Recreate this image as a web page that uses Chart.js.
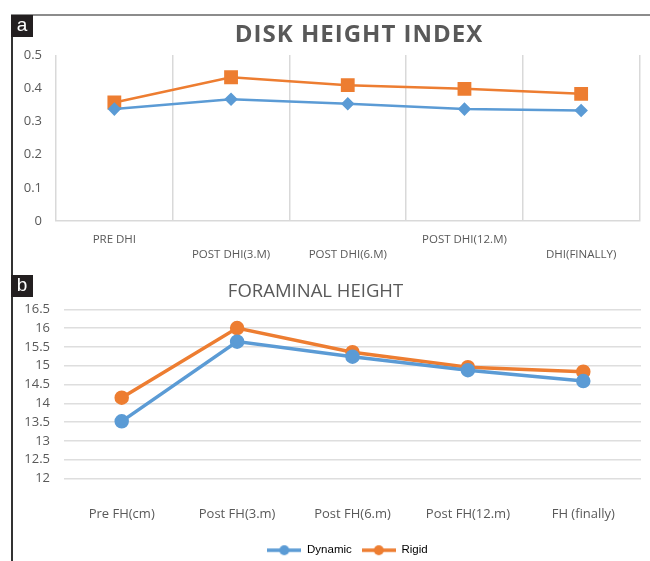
<!DOCTYPE html>
<html>
<head>
<meta charset="utf-8">
<script src="https://cdn.jsdelivr.net/npm/chart.js@4"></script>
<style>
  html, body { margin: 0; padding: 0; background: #fff; width: 650px; height: 561px; overflow: hidden; }
  #wrap { position: relative; width: 650px; height: 561px; }
  canvas { position: absolute; left: 0; }
  #cA { top: 0; }
  #cB { top: 270px; }
  .frameTop { position: absolute; left: 11px; top: 14px; width: 639px; height: 2px; background: #8c8c8c; }
  .frameLeft { position: absolute; left: 11px; top: 15px; width: 2px; height: 546px; background: #333; }
  .tag { position: absolute; left: 11px; width: 22px; height: 22px; background: #231f20; color: #fff;
         font-family: 'Liberation Sans', Arial, sans-serif; font-size: 19px; line-height: 20px; text-align: center; }
</style>
</head>
<body>
<div id="wrap">
  <canvas id="cA" width="650" height="270"></canvas>
  <canvas id="cB" width="650" height="296"></canvas>
  <div class="frameTop"></div>
  <div class="frameLeft"></div>
  <div class="tag" style="top:15px;">a</div>
  <div class="tag" style="top:275px;">b</div>
</div>
<script>
// ---------- data ----------
const seriesNames = ['Dynamic', 'Rigid'];

const titleA = 'DISK HEIGHT INDEX';
const categoriesA = ['PRE DHI', 'POST DHI(3.M)', 'POST DHI(6.M)', 'POST DHI(12.M)', 'DHI(FINALLY)'];
const dynamicDHI = [0.337, 0.367, 0.353, 0.337, 0.333];
const rigidDHI   = [0.357, 0.433, 0.409, 0.398, 0.383];
const axisA = { min: 0, max: 0.5, step: 0.1 };

const titleB = 'FORAMINAL HEIGHT';
const categoriesB = ['Pre FH(cm)', 'Post FH(3.m)', 'Post FH(6.m)', 'Post FH(12.m)', 'FH (finally)'];
const dynamicFH = [13.52, 15.64, 15.24, 14.88, 14.59];
const rigidFH   = [14.15, 16.00, 15.36, 14.96, 14.84];
const axisB = { min: 12, max: 16.5, step: 0.5 };

// ---------- styling ----------
const BLUE = '#5b9bd5';
const ORANGE = '#ed7d31';
const TEXT = '#595959';
Chart.defaults.font.family = "'Open Sans', sans-serif";
Chart.defaults.color = TEXT;

const fmt = v => String(Number(Number(v).toFixed(2)));

const customTitle = {
  id: 'customTitle',
  afterDraw(chart, args, opts) {
    if (!opts || !opts.text) return;
    const ctx = chart.ctx;
    ctx.save();
    ctx.font = opts.font;
    ctx.fillStyle = opts.color;
    ctx.textAlign = 'center';
    ctx.textBaseline = 'alphabetic';
    if ('letterSpacing' in ctx) ctx.letterSpacing = opts.spacing || '0px';
    ctx.fillText(opts.text, opts.x, opts.y);
    ctx.restore();
  }
};

// moves the legend box sideways (Excel centres it under the plot area)
const shiftLegend = {
  id: 'shiftLegend',
  afterLayout(chart, args, opts) {
    const l = chart.legend;
    if (l && opts && opts.dx) { l.left += opts.dx; l.right += opts.dx; }
  }
};

// staggered label rows for chart a (0 = upper row, 1 = lower row)
const staggerA = [0, 1, 1, 0, 1];

new Chart(document.getElementById('cA'), {
  type: 'line',
  data: {
    labels: categoriesA,
    datasets: [
      { label: seriesNames[0], data: dynamicDHI, borderColor: BLUE, backgroundColor: BLUE,
        borderWidth: 2.5, pointStyle: 'rectRot', pointRadius: 5, pointHoverRadius: 5, tension: 0 },
      { label: seriesNames[1], data: rigidDHI, borderColor: ORANGE, backgroundColor: ORANGE,
        borderWidth: 2.5, pointStyle: 'rect', pointRadius: 8, pointHoverRadius: 8, tension: 0 }
    ]
  },
  options: {
    responsive: false, animation: false,
    layout: { padding: { top: 55, right: 6, bottom: 0, left: 0 } },
    plugins: {
      legend: { display: false },
      tooltip: { enabled: false },
      customTitle: { text: titleA, font: "bold 24px 'Open Sans'", color: TEXT, x: 359, y: 41.5, spacing: '1px' }
    },
    scales: {
      x: {
        offset: true,
        grid: { display: true, offset: true, color: '#d9d9d9', lineWidth: 1.5, drawTicks: false },
        border: { display: true, color: '#d9d9d9', width: 1.5 },
        ticks: {
          autoSkip: false, maxRotation: 0, padding: 12, color: TEXT,
          font: { size: 11.5, lineHeight: 1.25 },
          callback: function(v, i) { const l = this.getLabelForValue(v); return staggerA[i] === 0 ? [l, ''] : ['', l]; }
        },
        afterFit(scale) { scale.height = 49; }
      },
      y: {
        min: axisA.min, max: axisA.max,
        grid: { display: false, drawTicks: false },
        border: { display: false },
        ticks: { stepSize: axisA.step, padding: 14, color: TEXT, font: { size: 13 }, callback: fmt },
        afterFit(scale) { scale.width = 56; }
      }
    }
  },
  plugins: [customTitle]
});

function legendLine(color) {
  const c = document.createElement('canvas');
  c.width = 34; c.height = 12;
  const g = c.getContext('2d');
  g.strokeStyle = color; g.lineWidth = 3.5;
  g.beginPath(); g.moveTo(0, 6); g.lineTo(34, 6); g.stroke();
  g.fillStyle = color; g.beginPath(); g.arc(17, 6, 5, 0, Math.PI * 2); g.fill();
  return c;
}

new Chart(document.getElementById('cB'), {
  type: 'line',
  data: {
    labels: categoriesB,
    datasets: [
      { label: seriesNames[0], data: dynamicFH, borderColor: BLUE, backgroundColor: BLUE,
        borderWidth: 3.5, pointStyle: 'circle', pointRadius: 5.5, pointHoverRadius: 5.5, tension: 0 },
      { label: seriesNames[1], data: rigidFH, borderColor: ORANGE, backgroundColor: ORANGE,
        borderWidth: 3.5, pointStyle: 'circle', pointRadius: 5.5, pointHoverRadius: 5.5, tension: 0 }
    ]
  },
  options: {
    responsive: false, animation: false,
    layout: { padding: { top: 39.3, right: 5, bottom: 0, left: 0 } },
    plugins: {
      tooltip: { enabled: false },
      shiftLegend: { dx: 25 },
      legend: {
        display: true, position: 'bottom',
        labels: {
          usePointStyle: true, pointStyleWidth: 34, padding: 10,
          color: '#000', font: { family: "'Liberation Sans', Arial, sans-serif", size: 11.5 },
          generateLabels(chart) {
            return chart.data.datasets.map((ds, i) => ({
              text: ds.label, pointStyle: legendLine(ds.borderColor), fillStyle: ds.borderColor,
              strokeStyle: ds.borderColor, lineWidth: 0, hidden: false, datasetIndex: i, fontColor: '#000'
            }));
          }
        }
      },
      customTitle: { text: titleB, font: "18.5px 'Open Sans'", color: TEXT, x: 315.5, y: 26.7, spacing: '0px' }
    },
    scales: {
      x: {
        offset: true,
        grid: { display: false, drawTicks: false },
        border: { display: false },
        ticks: { autoSkip: false, maxRotation: 0, padding: 28, color: TEXT, font: { size: 13 } },
        afterFit(scale) { scale.height = 56; }
      },
      y: {
        min: axisB.min, max: axisB.max,
        grid: { color: '#dedede', lineWidth: 1.5, drawTicks: false },
        border: { display: false },
        ticks: { stepSize: axisB.step, padding: 14, color: TEXT, font: { size: 13 }, callback: fmt },
        afterFit(scale) { scale.width = 64; }
      }
    }
  },
  plugins: [customTitle, shiftLegend]
});
</script>
</body>
</html>
